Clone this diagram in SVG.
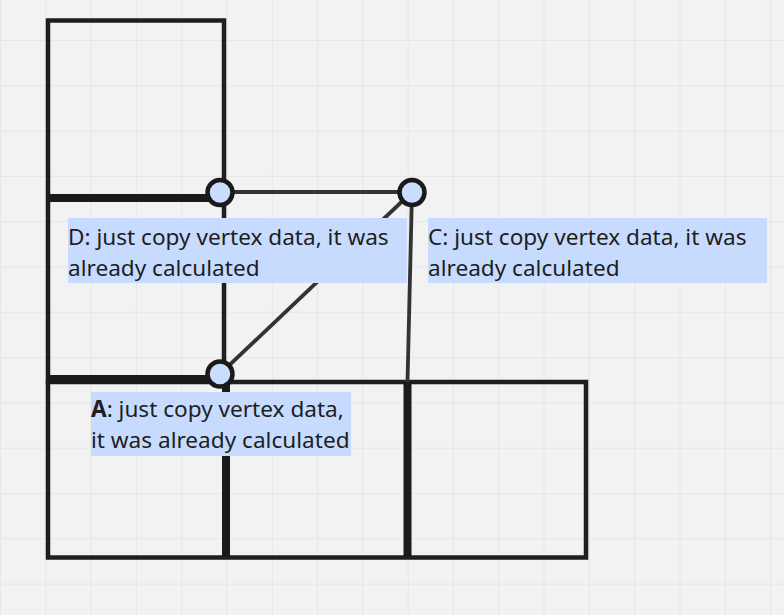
<svg xmlns="http://www.w3.org/2000/svg" width="784" height="615" viewBox="0 0 784 615">
<defs>
<pattern id="grid" x="0" y="-5.3" width="45.3" height="45.3" patternUnits="userSpaceOnUse">
<path d="M0 0V45.3M0 0H45.3" fill="none" stroke="#e6e6e6" stroke-width="2"/>
</pattern>
<style>
.frame{fill:none;stroke:#1e1e1e;stroke-width:4.5}
.thick{stroke:#1a1a1a;stroke-width:8;fill:none}
.edge{stroke:#333333;stroke-width:3.8;fill:none}
.vtx{fill:#c9ddff;stroke:#1a1a1a;stroke-width:4.5}
.lbl{fill:#c7dbff}
.txt{font-family:"Noto Sans","Open Sans","DejaVu Sans",sans-serif;font-size:22.6px;fill:#1e1e1e}
</style>
</defs>
<rect width="784" height="615" fill="#f2f2f2"/>
<rect width="784" height="615" fill="url(#grid)"/>
<g id="cells">
<rect class="frame" x="48" y="20.5" width="176" height="361"/>
<rect class="frame" x="48" y="382" width="538" height="175.5"/>
</g>
<g id="connectors">
<line class="thick" x1="48" y1="198" x2="212" y2="198"/>
<line class="thick" x1="48" y1="379" x2="212" y2="379"/>
<line class="thick" x1="226" y1="382" x2="226" y2="557"/>
<line class="thick" x1="407.5" y1="382" x2="407.5" y2="557"/>
<line class="edge" x1="220" y1="192" x2="412" y2="192"/>
<line class="edge" x1="220" y1="374" x2="412" y2="192"/>
<line class="edge" x1="412" y1="192" x2="407.5" y2="382"/>
</g>
<g id="vertex-D"><circle class="vtx" cx="220" cy="192.5" r="12.5"/></g>
<g id="vertex-C"><circle class="vtx" cx="412" cy="192.5" r="12.5"/></g>
<g id="vertex-A"><circle class="vtx" cx="220" cy="374" r="12.5"/></g>
<g id="label-D">
<rect class="lbl" x="68" y="218" width="339" height="65"/>
<text class="txt" x="68" y="245">D: just copy vertex data, it was</text>
<text class="txt" x="68" y="276">already calculated</text>
</g>
<g id="label-C">
<rect class="lbl" x="428" y="218" width="339" height="65"/>
<text class="txt" x="428" y="245">C: just copy vertex data, it was</text>
<text class="txt" x="428" y="276">already calculated</text>
</g>
<g id="label-A">
<rect class="lbl" x="91" y="392" width="260" height="64"/>
<text class="txt" x="91" y="417"><tspan font-weight="bold">A</tspan>: just copy vertex data,</text>
<text class="txt" x="91" y="448">it was already calculated</text>
</g>
</svg>
